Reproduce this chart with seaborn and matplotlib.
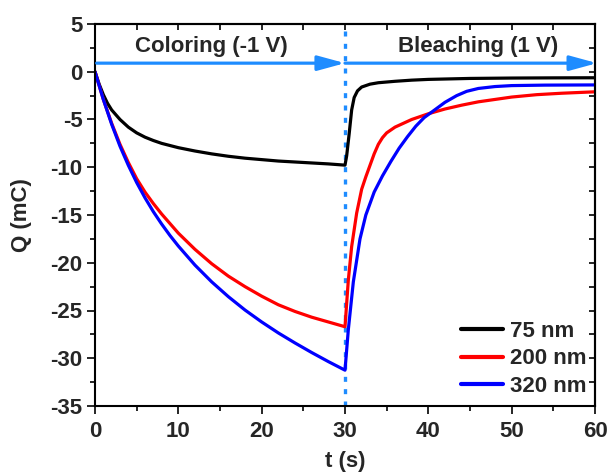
import numpy as np
import pandas as pd
import matplotlib
matplotlib.use("Agg")
import matplotlib.pyplot as plt
from matplotlib.ticker import MultipleLocator
import seaborn as sns

# ---- data ----
t_75 = [0, 0.5, 1, 1.5, 2, 3, 4, 5, 6, 7, 8, 10, 12, 14, 16, 18, 20, 22, 24, 26, 28, 30,
        30.2, 30.5, 30.8, 31.1, 31.5, 32, 33, 34, 36, 38, 40, 45, 50, 55, 60]
q_75 = [0, -1.3, -2.4, -3.3, -4.0, -5.0, -5.8, -6.4, -6.85, -7.2, -7.5, -7.95, -8.3, -8.6, -8.85,
        -9.05, -9.2, -9.35, -9.45, -9.55, -9.65, -9.78,
        -8.8, -6.5, -4.0, -2.7, -2.0, -1.6, -1.3, -1.15, -1.0, -0.88, -0.8, -0.7, -0.66, -0.64, -0.63]

t_200 = [0, 1, 2, 3, 4, 5, 6, 7, 8, 9, 10, 12, 14, 16, 18, 20, 22, 24, 26, 28, 30,
         30.4, 30.8, 31.4, 32, 32.5, 33, 33.5, 34, 34.5, 35, 36, 37, 38, 40, 42, 44, 46, 48, 50, 53, 56, 60]
q_200 = [0, -2.9, -5.4, -7.6, -9.5, -11.2, -12.6, -13.8, -14.9, -15.9, -16.9, -18.6, -20.1, -21.4,
         -22.5, -23.5, -24.4, -25.1, -25.7, -26.2, -26.7,
         -21.8, -18.3, -14.8, -12.3, -11.0, -9.8, -8.6, -7.6, -6.9, -6.4, -5.8, -5.4, -5.0, -4.4,
         -3.9, -3.5, -3.15, -2.9, -2.65, -2.4, -2.25, -2.1]

t_320 = [0, 1, 2, 3, 4, 5, 6, 7, 8, 9, 10, 12, 14, 16, 18, 20, 22, 24, 26, 28, 30,
         30.4, 31, 31.8, 32.5, 33.5, 34.5, 35.5, 36.5, 37.5, 38.5, 39.5, 40.6, 42, 43.4, 44.6,
         46, 48, 50, 54, 60]
q_320 = [0, -2.9, -5.5, -7.8, -9.8, -11.6, -13.2, -14.65, -15.95, -17.15, -18.25, -20.25, -22.0,
         -23.55, -24.95, -26.2, -27.35, -28.4, -29.4, -30.35, -31.25,
         -27.0, -22.0, -17.5, -15.0, -12.6, -10.9, -9.4, -8.0, -6.8, -5.7, -4.8, -4.1, -3.2, -2.5,
         -2.05, -1.75, -1.55, -1.45, -1.4, -1.38]

labels = ["75 nm", "200 nm", "320 nm"]
colors = ["#000000", "#FF0000", "#0000FF"]
x_ticks = [0, 10, 20, 30, 40, 50, 60]
y_ticks = [5, 0, -5, -10, -15, -20, -25, -30, -35]
switch_t = 30
arrow_q = 0.9

df = pd.concat([
    pd.DataFrame({"t": t_75, "Q": q_75, "sample": labels[0]}),
    pd.DataFrame({"t": t_200, "Q": q_200, "sample": labels[1]}),
    pd.DataFrame({"t": t_320, "Q": q_320, "sample": labels[2]}),
], ignore_index=True)

sns.set_style("ticks")
plt.rcParams["font.family"] = ["Liberation Sans", "DejaVu Sans"]
plt.rcParams["font.weight"] = "bold"
plt.rcParams["axes.labelweight"] = "bold"
plt.rcParams["axes.unicode_minus"] = False

fig = plt.figure(figsize=(6.11, 4.74), dpi=100)
ax = fig.add_axes([95/611, 1-406/474, 500/611, 382/474])

sns.lineplot(data=df, x="t", y="Q", hue="sample", hue_order=labels,
             palette=colors, linewidth=2.3, sort=False, estimator=None, ax=ax)

ax.set_xlim(0, 60)
ax.set_ylim(-35, 5)
ax.set_xticks(x_ticks)
ax.set_xticklabels([str(v) for v in x_ticks], fontweight="bold", fontsize=16)
ax.set_yticks(y_ticks)
ax.set_yticklabels([str(v) for v in y_ticks], fontweight="bold", fontsize=16)
ax.xaxis.set_minor_locator(MultipleLocator(5))
ax.yaxis.set_minor_locator(MultipleLocator(2.5))
ax.tick_params(axis="x", which="major", direction="out", length=6, width=1.4, pad=5)
ax.tick_params(axis="y", which="major", direction="out", length=6, width=1.4, pad=3)
ax.tick_params(axis="both", which="minor", direction="out", length=3.5, width=1.4)
for s in ax.spines.values():
    s.set_visible(True)
    s.set_linewidth(1.5)
    s.set_color("black")

sec_x = ax.secondary_xaxis("top")
sec_x.xaxis.set_major_locator(MultipleLocator(5))
sec_x.tick_params(direction="in", length=4, width=1.4, labeltop=False)
sec_x.spines["top"].set_linewidth(1.5)
sec_y = ax.secondary_yaxis("right")
sec_y.yaxis.set_major_locator(MultipleLocator(2.5))
sec_y.tick_params(direction="in", length=4, width=1.4, labelright=False)
sec_y.spines["right"].set_linewidth(1.5)

ax.set_xlabel("t (s)", fontsize=16, fontweight="bold", labelpad=6)
ax.set_ylabel("Q (mC)", fontsize=16, fontweight="bold", labelpad=13)

arrow_col = "#1E8CFF"
ax.axvline(switch_t, color=arrow_col, lw=2.4, linestyle=(0, (1.5, 2.2)), zorder=1)
ax.annotate("", xy=(switch_t, arrow_q), xytext=(0.2, arrow_q),
            arrowprops=dict(arrowstyle="-|>,head_length=1.1,head_width=0.3",
                            mutation_scale=15, color=arrow_col, lw=2.3,
                            shrinkA=0, shrinkB=0))
ax.annotate("", xy=(60.25, arrow_q), xytext=(switch_t, arrow_q), annotation_clip=False,
            arrowprops=dict(arrowstyle="-|>,head_length=1.1,head_width=0.3",
                            mutation_scale=15, color=arrow_col, lw=2.3,
                            shrinkA=0, shrinkB=0))
ax.text(14.0, 2.6, "Coloring (-1 V)", ha="center", va="center", fontsize=16, fontweight="bold")
ax.text(46.0, 2.6, "Bleaching (1 V)", ha="center", va="center", fontsize=16, fontweight="bold")

leg = ax.legend(loc="lower right", frameon=False, fontsize=16, handlelength=1.9,
                handletextpad=0.3, labelspacing=0.3, borderaxespad=0.0,
                bbox_to_anchor=(1.0, 0.0))
for txt in leg.get_texts():
    txt.set_fontweight("bold")
for ln in leg.get_lines():
    ln.set_linewidth(3)

fig.savefig("out.png", dpi=100)
